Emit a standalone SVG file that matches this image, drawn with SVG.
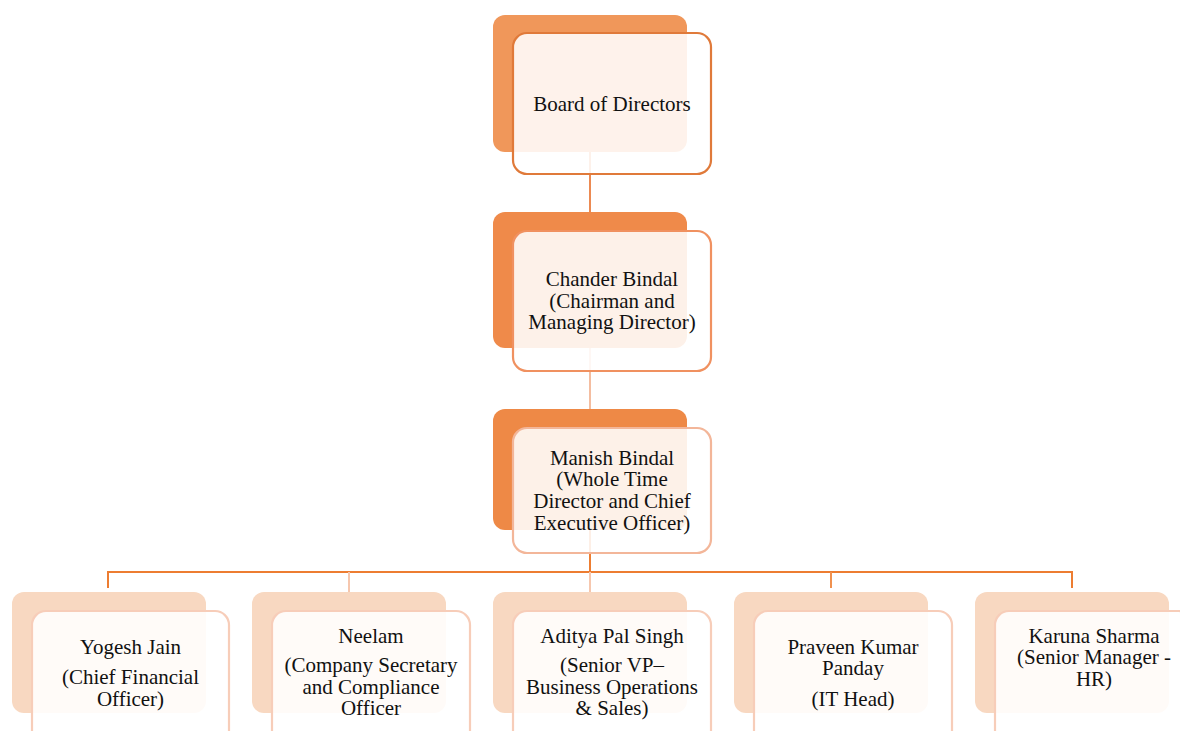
<svg xmlns="http://www.w3.org/2000/svg" width="1180" height="731" viewBox="0 0 1180 731">
<style>
.bg{fill:#ffffff}
.back{stroke:none}
.front{fill:#ffffff;fill-opacity:0.88;stroke-width:2.2}
.t{font-family:"Liberation Serif","Times New Roman",serif;font-size:21px;fill:#111111;text-anchor:middle}
.c{fill:none;stroke-width:2}
</style>
<rect class="bg" width="1180" height="731"/>
<g id="back-layer">
<rect class="back" x="493" y="15" width="194" height="137" rx="12" fill="#F0975A"/>
<rect class="back" x="493" y="212" width="194" height="136" rx="12" fill="#EF8A4A"/>
<rect class="back" x="493" y="409" width="194" height="121" rx="12" fill="#EE8946"/>
</g>
<g id="connectors">
<line class="c" x1="590" y1="152" x2="590" y2="212" stroke="#EC8A52"/>
<line class="c" x1="590" y1="348" x2="590" y2="409" stroke="#F4BDA0"/>
<line class="c" x1="590" y1="530" x2="590" y2="572" stroke="#ED7D31"/>
<polyline class="c" points="108,588 108,572 1072,572 1072,588" stroke="#ED7D31"/>
<line class="c" x1="349" y1="572" x2="349" y2="592" stroke="#F6C7AE"/>
<line class="c" x1="590" y1="572" x2="590" y2="592" stroke="#F6C7AE"/>
<line class="c" x1="831" y1="572" x2="831" y2="588" stroke="#F0914F"/>
</g>
<g id="board">
<rect class="front" x="513" y="33" width="198" height="141" rx="14" stroke="#E07A3A"/>
<text class="t" x="612" y="111">Board of Directors</text>
</g>
<g id="chander">
<rect class="front" x="513" y="231" width="198" height="140" rx="14" stroke="#F09160"/>
<text class="t" x="612" y="286">Chander Bindal</text>
<text class="t" x="612" y="307.5">(Chairman and</text>
<text class="t" x="612" y="329">Managing Director)</text>
</g>
<g id="manish">
<rect class="front" x="513" y="428" width="198" height="125" rx="14" stroke="#F3B699"/>
<text class="t" x="612" y="464.5">Manish Bindal</text>
<text class="t" x="612" y="486">(Whole Time</text>
<text class="t" x="612" y="508">Director and Chief</text>
<text class="t" x="612" y="530">Executive Officer)</text>
</g>
<g id="yogesh">
<rect class="back" x="12" y="592" width="194" height="121" rx="12" fill="#F8D8C1"/>
<rect class="front" x="32" y="611" width="197" height="141" rx="14" stroke="#F7CDB9"/>
<text class="t" x="130.5" y="653.5">Yogesh Jain</text>
<text class="t" x="130.5" y="684">(Chief Financial</text>
<text class="t" x="130.5" y="705.5">Officer)</text>
</g>
<g id="neelam">
<rect class="back" x="252" y="592" width="194" height="121" rx="12" fill="#F8D8C1"/>
<rect class="front" x="272" y="611" width="198" height="141" rx="14" stroke="#F7CDB9"/>
<text class="t" x="371" y="642.5">Neelam</text>
<text class="t" x="371" y="672">(Company Secretary</text>
<text class="t" x="371" y="693.5">and Compliance</text>
<text class="t" x="371" y="715">Officer</text>
</g>
<g id="aditya">
<rect class="back" x="493" y="592" width="194" height="121" rx="12" fill="#F8D8C1"/>
<rect class="front" x="513" y="611" width="198" height="141" rx="14" stroke="#F7CDB9"/>
<text class="t" x="612" y="642.5">Aditya Pal Singh</text>
<text class="t" x="612" y="672">(Senior VP–</text>
<text class="t" x="612" y="693.5">Business Operations</text>
<text class="t" x="612" y="715">&amp; Sales)</text>
</g>
<g id="praveen">
<rect class="back" x="734" y="592" width="194" height="121" rx="12" fill="#F8D8C1"/>
<rect class="front" x="754" y="611" width="198" height="141" rx="14" stroke="#F7CDB9"/>
<text class="t" x="853" y="653.5">Praveen Kumar</text>
<text class="t" x="853" y="675">Panday</text>
<text class="t" x="853" y="705.5">(IT Head)</text>
</g>
<g id="karuna">
<rect class="back" x="975" y="592" width="194" height="121" rx="12" fill="#F8D8C1"/>
<rect class="front" x="995" y="611" width="198" height="141" rx="14" stroke="#F7CDB9"/>
<text class="t" x="1094" y="642.5">Karuna Sharma</text>
<text class="t" x="1094" y="664">(Senior Manager -</text>
<text class="t" x="1094" y="686">HR)</text>
</g>
</svg>
